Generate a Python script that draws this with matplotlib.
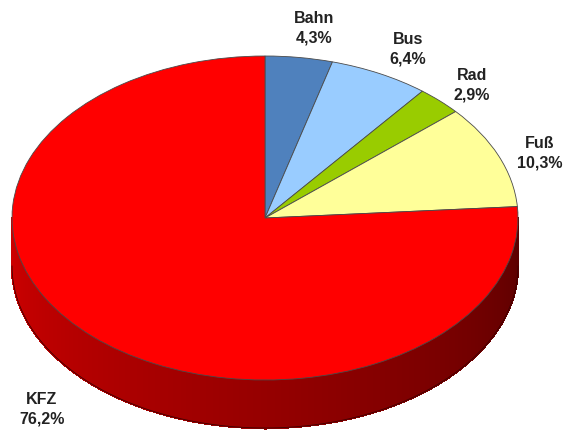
import numpy as np
import matplotlib.pyplot as plt
from matplotlib.transforms import Affine2D
from matplotlib.collections import PolyCollection
from matplotlib.colors import to_rgb

labels = ['Bahn', 'Bus', 'Rad', 'Fuß', 'KFZ']
shares = [4.3, 6.4, 2.9, 10.3, 76.2]
share_text = ['4,3%', '6,4%', '2,9%', '10,3%', '76,2%']
colors = ['#4f81bd', '#99ccff', '#99cc00', '#ffff99', '#ff0000']

# ellipse geometry in pixel space (y up)
W, H = 566, 431
cx, cy = 265, 431 - 219
rx, ry = 253, 162
depth = 48

fig = plt.figure(figsize=(W / 100, H / 100), dpi=100)
ax = fig.add_axes([0, 0, 1, 1])

# front side of the cake (only the lower half is visible -> KFZ wedge)
th = np.linspace(np.pi, 2 * np.pi, 400)
c0 = np.array(to_rgb('#d00000'))
c1 = np.array(to_rgb('#5c0000'))
polys, cols = [], []
for i in range(len(th) - 1):
    a, b = th[i], th[i + 1]
    xa, ya = cx + rx * np.cos(a), cy + ry * np.sin(a)
    xb, yb = cx + rx * np.cos(b), cy + ry * np.sin(b)
    polys.append([(xa, ya), (xb, yb), (xb, yb - depth), (xa, ya - depth)])
    t = i / (len(th) - 2)
    cols.append(c0 + (c1 - c0) * t)
side = PolyCollection(polys, facecolors=cols, edgecolors=cols, linewidths=1.0,
                      antialiased=False)
ax.add_collection(side)
# outline of the bottom rim
ax.plot(cx + rx * np.cos(th), cy + ry * np.sin(th) - depth, color='#400000', lw=0.6)

# top face: regular pie squashed into an ellipse
wedges, _ = ax.pie(shares, colors=colors, startangle=90, counterclock=False,
                   radius=1, center=(0, 0), frame=True,
                   wedgeprops=dict(edgecolor='#4a4a4a', linewidth=0.6))
squash = Affine2D().scale(rx, ry).translate(cx, cy) + ax.transData
for w in wedges:
    w.set_transform(squash)
ax.set_xlim(0, W)
ax.set_ylim(0, H)
ax.set_aspect('auto')
ax.axis('off')

# label positions (pixel coords, y down)
label_pos = [(314, 28), (408, 49), (472, 85), (540, 153), (42, 409)]
for name, txt, (x, y) in zip(labels, share_text, label_pos):
    ax.text(x, H - y, name + '\n' + txt, ha='center', va='center',
            fontsize=11.5, fontweight='bold', family='Liberation Sans',
            color='#222222', linespacing=1.35)

fig.savefig('out.png', dpi=100, facecolor='white')
